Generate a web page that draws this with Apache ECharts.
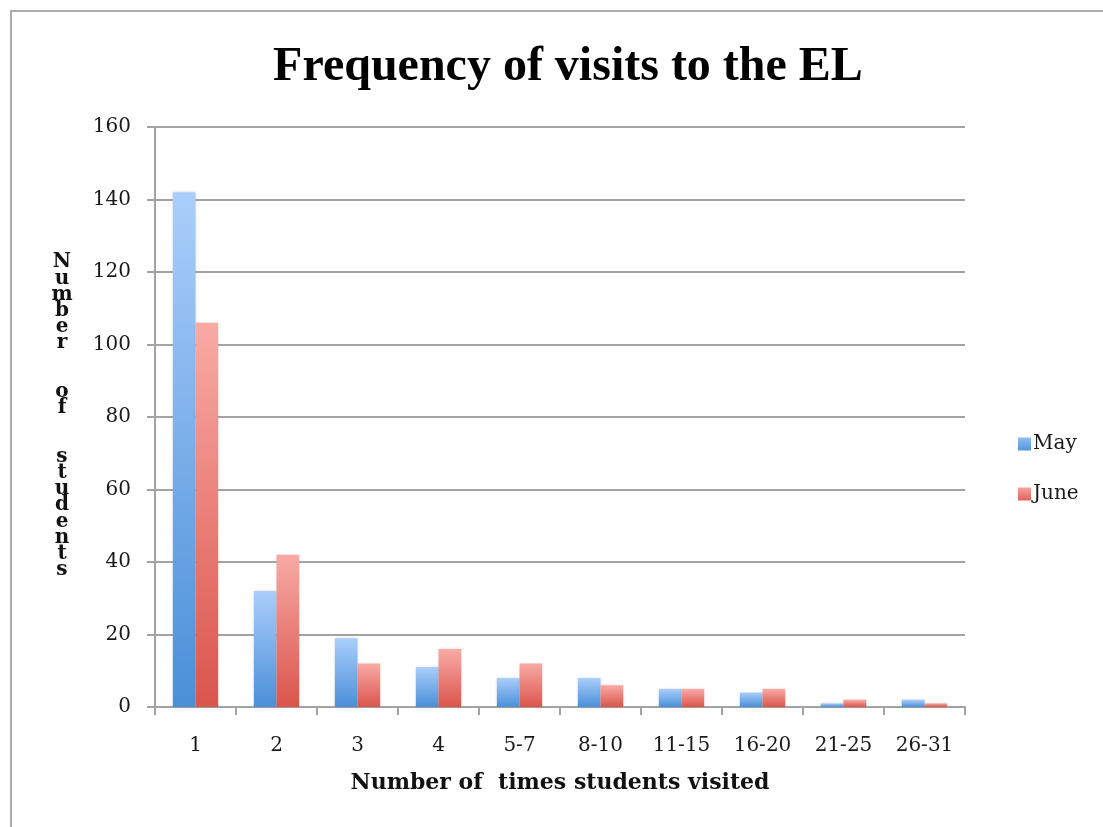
<!DOCTYPE html>
<html>
<head>
<meta charset="utf-8">
<style>
  html, body { margin: 0; padding: 0; background: #ffffff; }
  #chart { width: 1103px; height: 827px; }
</style>
<script src="https://cdn.jsdelivr.net/npm/echarts@6/dist/echarts.min.js"></script>
</head>
<body>
<div id="chart"></div>
<script>
// Visit-count buckets and number of students in each, per month
const categories = ['1', '2', '3', '4', '5-7', '8-10', '11-15', '16-20', '21-25', '26-31'];
const mayValues  = [142, 32, 19, 11, 8, 8, 5, 4, 1, 2];
const juneValues = [106, 42, 12, 16, 12, 6, 5, 5, 2, 1];
const yTicks = { min: 0, max: 160, interval: 20 };

const serif = '"DejaVu Serif", "Liberation Serif", serif';
const gridColor = '#a3a3a3';
const textColor = '#1a1a1a';

// Each bar fades from a pale tint at the top to a deeper tone at the base
function barFill(top, bottom) {
  return new echarts.graphic.LinearGradient(0, 0, 0, 1, [
    { offset: 0, color: top },
    { offset: 1, color: bottom }
  ]);
}
const mayFill  = barFill('#aacefb', '#4a8fd8');
const juneFill = barFill('#f9aaa5', '#da554c');

const chart = echarts.init(document.getElementById('chart'), null, { renderer: 'canvas' });

const yLabel = 'Number  of  students'.split('').join('\n');

chart.setOption({
  backgroundColor: '#ffffff',
  animation: false,
  title: {
    text: 'Frequency of visits to the EL',
    left: 563,
    top: 39,
    textAlign: 'center',
    textStyle: {
      fontFamily: '"Liberation Serif", serif',
      fontWeight: 'bold',
      fontSize: 48,
      color: '#000000'
    }
  },
  legend: {
    orient: 'vertical',
    left: 1013,
    top: 429,
    icon: 'rect',
    itemWidth: 13,
    itemHeight: 13,
    itemGap: 30,
    textStyle: { fontFamily: serif, fontSize: 20, color: textColor, lineHeight: 20, padding: [0, 0, 0, -3] },
    data: [
      { name: 'May', itemStyle: { color: barFill('#8fbdf3', '#5496dd') } },
      { name: 'June', itemStyle: { color: barFill('#f7a09b', '#e0625a') } }
    ]
  },
  grid: { left: 155, right: 138, top: 127, bottom: 120, containLabel: false },
  xAxis: {
    type: 'category',
    data: categories,
    name: 'Number of  times students visited',
    nameLocation: 'middle',
    nameGap: 65,
    nameTextStyle: { fontFamily: serif, fontWeight: 'bold', fontSize: 22, color: '#111111' },
    axisLine: { lineStyle: { color: gridColor, width: 2 } },
    axisTick: { show: true, length: 8, lineStyle: { color: gridColor, width: 2 } },
    axisLabel: { fontFamily: serif, fontSize: 20, color: textColor, margin: 29 }
  },
  yAxis: {
    type: 'value',
    min: yTicks.min,
    max: yTicks.max,
    interval: yTicks.interval,
    axisLine: { show: true, lineStyle: { color: gridColor, width: 2 } },
    axisTick: { show: true, length: 8, lineStyle: { color: gridColor, width: 2 } },
    axisLabel: { fontFamily: serif, fontSize: 20, color: textColor, margin: 24 },
    splitLine: { lineStyle: { color: gridColor, width: 2 } }
  },
  series: [
    {
      name: 'May',
      type: 'bar',
      data: mayValues,
      barGap: '0%',
      barCategoryGap: '44%',
      itemStyle: { color: mayFill, shadowColor: 'rgba(0,0,0,0.15)', shadowBlur: 3 }
    },
    {
      name: 'June',
      type: 'bar',
      data: juneValues,
      barGap: '0%',
      barCategoryGap: '44%',
      itemStyle: { color: juneFill, shadowColor: 'rgba(0,0,0,0.15)', shadowBlur: 3 }
    }
  ],
  graphic: [
    // outer frame of the chart area
    {
      type: 'polyline',
      shape: { points: [[11, 827], [11, 11], [1103, 11]] },
      style: { stroke: '#ababab', lineWidth: 2, fill: null },
      silent: true
    },
    // stacked vertical y-axis title
    {
      type: 'text',
      x: 62,
      y: 416,
      style: {
        text: yLabel,
        fontFamily: serif,
        fontWeight: 'bold',
        fontSize: 20,
        lineHeight: 16.2,
        fill: '#111111',
        align: 'center',
        verticalAlign: 'middle'
      }
    }
  ]
});
</script>
</body>
</html>
